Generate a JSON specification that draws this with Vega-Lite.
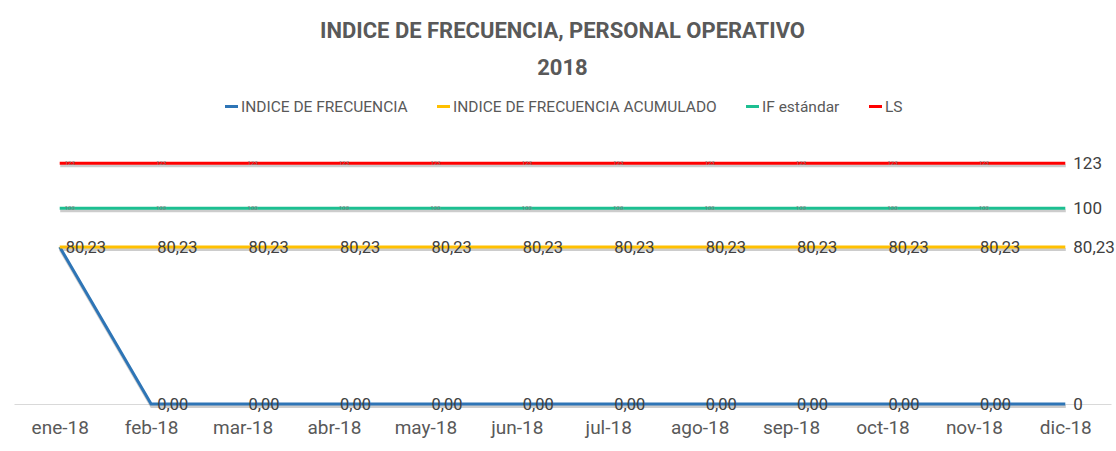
{
  "$schema": "https://vega.github.io/schema/vega-lite/v6.json",
  "width": 1097,
  "height": 274,
  "autosize": {"type": "none"},
  "padding": {"left": 14, "top": 130, "right": 5, "bottom": 47},
  "background": "white",
  "config": {
    "view": {"stroke": null},
    "locale": {"number": {"decimal": ",", "thousands": ".", "grouping": [3], "currency": ["", ""]}},
    "font": "Roboto"
  },
  "title": {
    "text": ["INDICE DE FRECUENCIA, PERSONAL OPERATIVO", "2018"],
    "font": "Roboto",
    "fontSize": 22,
    "fontWeight": "bold",
    "color": "#595959",
    "lineHeight": 37,
    "anchor": "middle",
    "offset": 18
  },
  "data": {
    "values": [
      {"mes": "ene-18", "serie": "INDICE DE FRECUENCIA", "valor": 80.23},
      {"mes": "feb-18", "serie": "INDICE DE FRECUENCIA", "valor": 0},
      {"mes": "mar-18", "serie": "INDICE DE FRECUENCIA", "valor": 0},
      {"mes": "abr-18", "serie": "INDICE DE FRECUENCIA", "valor": 0},
      {"mes": "may-18", "serie": "INDICE DE FRECUENCIA", "valor": 0},
      {"mes": "jun-18", "serie": "INDICE DE FRECUENCIA", "valor": 0},
      {"mes": "jul-18", "serie": "INDICE DE FRECUENCIA", "valor": 0},
      {"mes": "ago-18", "serie": "INDICE DE FRECUENCIA", "valor": 0},
      {"mes": "sep-18", "serie": "INDICE DE FRECUENCIA", "valor": 0},
      {"mes": "oct-18", "serie": "INDICE DE FRECUENCIA", "valor": 0},
      {"mes": "nov-18", "serie": "INDICE DE FRECUENCIA", "valor": 0},
      {"mes": "dic-18", "serie": "INDICE DE FRECUENCIA", "valor": 0},
      {"mes": "ene-18", "serie": "INDICE DE FRECUENCIA ACUMULADO", "valor": 80.23},
      {"mes": "feb-18", "serie": "INDICE DE FRECUENCIA ACUMULADO", "valor": 80.23},
      {"mes": "mar-18", "serie": "INDICE DE FRECUENCIA ACUMULADO", "valor": 80.23},
      {"mes": "abr-18", "serie": "INDICE DE FRECUENCIA ACUMULADO", "valor": 80.23},
      {"mes": "may-18", "serie": "INDICE DE FRECUENCIA ACUMULADO", "valor": 80.23},
      {"mes": "jun-18", "serie": "INDICE DE FRECUENCIA ACUMULADO", "valor": 80.23},
      {"mes": "jul-18", "serie": "INDICE DE FRECUENCIA ACUMULADO", "valor": 80.23},
      {"mes": "ago-18", "serie": "INDICE DE FRECUENCIA ACUMULADO", "valor": 80.23},
      {"mes": "sep-18", "serie": "INDICE DE FRECUENCIA ACUMULADO", "valor": 80.23},
      {"mes": "oct-18", "serie": "INDICE DE FRECUENCIA ACUMULADO", "valor": 80.23},
      {"mes": "nov-18", "serie": "INDICE DE FRECUENCIA ACUMULADO", "valor": 80.23},
      {"mes": "dic-18", "serie": "INDICE DE FRECUENCIA ACUMULADO", "valor": 80.23},
      {"mes": "ene-18", "serie": "IF estándar", "valor": 100},
      {"mes": "feb-18", "serie": "IF estándar", "valor": 100},
      {"mes": "mar-18", "serie": "IF estándar", "valor": 100},
      {"mes": "abr-18", "serie": "IF estándar", "valor": 100},
      {"mes": "may-18", "serie": "IF estándar", "valor": 100},
      {"mes": "jun-18", "serie": "IF estándar", "valor": 100},
      {"mes": "jul-18", "serie": "IF estándar", "valor": 100},
      {"mes": "ago-18", "serie": "IF estándar", "valor": 100},
      {"mes": "sep-18", "serie": "IF estándar", "valor": 100},
      {"mes": "oct-18", "serie": "IF estándar", "valor": 100},
      {"mes": "nov-18", "serie": "IF estándar", "valor": 100},
      {"mes": "dic-18", "serie": "IF estándar", "valor": 100},
      {"mes": "ene-18", "serie": "LS", "valor": 123},
      {"mes": "feb-18", "serie": "LS", "valor": 123},
      {"mes": "mar-18", "serie": "LS", "valor": 123},
      {"mes": "abr-18", "serie": "LS", "valor": 123},
      {"mes": "may-18", "serie": "LS", "valor": 123},
      {"mes": "jun-18", "serie": "LS", "valor": 123},
      {"mes": "jul-18", "serie": "LS", "valor": 123},
      {"mes": "ago-18", "serie": "LS", "valor": 123},
      {"mes": "sep-18", "serie": "LS", "valor": 123},
      {"mes": "oct-18", "serie": "LS", "valor": 123},
      {"mes": "nov-18", "serie": "LS", "valor": 123},
      {"mes": "dic-18", "serie": "LS", "valor": 123}
    ]
  },
  "encoding": {
    "x": {
      "field": "mes",
      "type": "ordinal",
      "scale": {
        "type": "point",
        "padding": 0.5,
        "domain": ["ene-18", "feb-18", "mar-18", "abr-18", "may-18", "jun-18", "jul-18", "ago-18", "sep-18", "oct-18", "nov-18", "dic-18"]
      },
      "axis": {
        "title": null,
        "labelAngle": 0,
        "labelFont": "Roboto",
        "labelFontSize": 19,
        "labelColor": "#595959",
        "labelPadding": 14,
        "ticks": false,
        "domainColor": "#d9d9d9",
        "domainWidth": 1,
        "grid": false
      }
    },
    "y": {
      "field": "valor",
      "type": "quantitative",
      "scale": {"domain": [0, 140], "nice": false, "zero": true},
      "axis": null
    }
  },
  "layer": [
    {
      "mark": {"type": "line", "strokeWidth": 3, "color": "#000000", "opacity": 0.2, "yOffset": 2.5, "xOffset": 0.5},
      "encoding": {"detail": {"field": "serie"}}
    },
    {
      "mark": {"type": "line", "strokeWidth": 3},
      "encoding": {
        "color": {
          "field": "serie",
          "type": "nominal",
          "scale": {
            "domain": ["INDICE DE FRECUENCIA", "INDICE DE FRECUENCIA ACUMULADO", "IF estándar", "LS"],
            "range": ["#2E75B6", "#FFC000", "#1DBF91", "#FF0000"]
          },
          "legend": {
            "title": null,
            "orient": "none",
            "direction": "horizontal",
            "legendX": 209,
            "legendY": -32,
            "symbolType": "stroke",
            "symbolSize": 170,
            "symbolStrokeWidth": 3,
            "labelFont": "Roboto",
            "labelFontSize": 15.5,
            "labelColor": "#595959",
            "labelLimit": 0,
            "labelOffset": 1,
            "columnPadding": 22
          }
        }
      }
    },
    {
      "transform": [
        {"filter": "datum.serie == 'INDICE DE FRECUENCIA' && datum.mes != 'ene-18' && datum.mes != 'dic-18'"}
      ],
      "mark": {"type": "text", "align": "left", "baseline": "middle", "dx": 6, "dy": 1, "fontSize": 16.5, "color": "#404040", "font": "Roboto"},
      "encoding": {"text": {"field": "valor", "type": "quantitative", "format": ".2f"}}
    },
    {
      "transform": [
        {"filter": "datum.serie == 'INDICE DE FRECUENCIA ACUMULADO' && datum.mes != 'dic-18'"}
      ],
      "mark": {"type": "text", "align": "left", "baseline": "middle", "dx": 6, "dy": 1, "fontSize": 16.5, "color": "#404040", "font": "Roboto"},
      "encoding": {"text": {"field": "valor", "type": "quantitative", "format": ".2f"}}
    },
    {
      "transform": [
        {"filter": "(datum.serie == 'IF estándar' || datum.serie == 'LS') && datum.mes != 'dic-18'"}
      ],
      "mark": {"type": "text", "align": "left", "baseline": "middle", "dx": 5, "fontSize": 6, "color": "#7f7f7f", "font": "Roboto"},
      "encoding": {"text": {"field": "valor", "type": "quantitative", "format": "~f"}}
    },
    {
      "transform": [
        {"filter": "datum.mes == 'dic-18'"}
      ],
      "mark": {"type": "text", "align": "left", "baseline": "middle", "dx": 8, "dy": 1, "fontSize": 17, "color": "#404040", "font": "Roboto"},
      "encoding": {"text": {"field": "valor", "type": "quantitative", "format": "~f"}}
    }
  ]
}
